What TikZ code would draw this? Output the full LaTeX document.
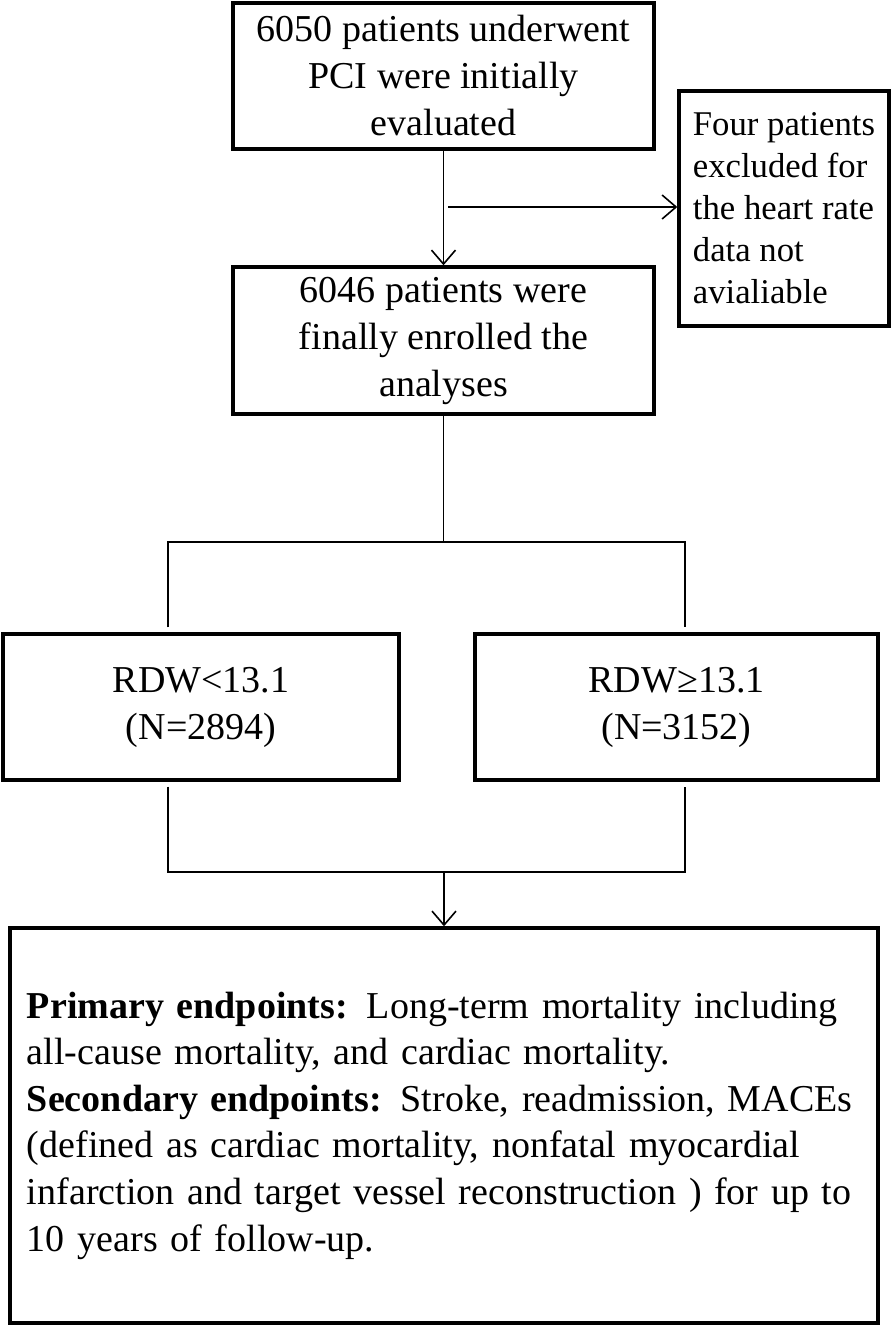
\documentclass[tikz,border=0pt]{standalone}
\usepackage{fontspec}
\setmainfont{Liberation Serif}
\usetikzlibrary{
	arrows.meta,
	positioning
}

\begin{document}
\begin{tikzpicture}[x=1pt,y=-1pt,
		>={Straight Barb[length=14pt,width=24pt]},
		box/.style={draw,line width=3.4pt,inner sep=0pt,align=center,
			font=\fontsize{38}{47}\selectfont},
		link/.style={line width=1.6pt}]
		
		\useasboundingbox (0,0) rectangle (894,1327);
		
		% Screened and enrolled
		\node[box,minimum width=421,minimum height=146] (init) at (443.5,76)
			{6050 patients underwent\\PCI were initially\\evaluated};
		\node[box,minimum width=421,minimum height=147] (enrol) at (443.5,340.5)
			{6046 patients were\\finally enrolled the\\analyses};
		\node[box,minimum width=210,minimum height=235,align=left,
			font=\fontsize{34.7}{42}\selectfont] (excl) at (784,208.5)
			{Four patients\\excluded for\\the heart rate\\data not\\avialiable};
		\draw[link,->] (init) -- (enrol);
		\coordinate (split) at (448,207);
		\draw[link,->] (split) -- (split -| excl.west);
		
		% RDW groups
		\node[box,minimum width=396,minimum height=146] (low) at (201,707)
			{RDW<13.1\\(N=2894)};
		\node[box,minimum width=403,minimum height=146] (high) at (676.5,707)
			{RDW≥13.1\\(N=3152)};
		\coordinate (forkL) at (168,542);
		\coordinate (forkR) at (685,542);
		\draw[link] (enrol) -- (enrol |- forkL);
		\draw[link,shorten <=5pt,shorten >=5pt] (forkL |- low.north) -- (forkL)
			-- (forkR) -- (forkR |- high.north);
		
		% Endpoints
		\node[box,align=left,text width=834pt,inner xsep=17pt,minimum height=395,
			font=\fontsize{38}{46.6}\selectfont] (ends) at (444,1125.5)
			{\textbf{Primary endpoints:} Long-term mortality including\\
			all-cause mortality, and cardiac mortality.\\
			\textbf{Secondary endpoints:} Stroke, readmission, MACEs\\
			(defined as cardiac mortality, nonfatal myocardial\\
			infarction and target vessel reconstruction ) for up to\\
			10 years of follow-up.};
		\coordinate (joinL) at (168,872);
		\coordinate (joinR) at (685,872);
		\draw[link,shorten <=5pt,shorten >=5pt] (joinL |- low.south) -- (joinL)
			-- (joinR) -- (joinR |- high.south);
		\draw[link,->] (ends.north |- joinL) -- (ends);
		
	\end{tikzpicture}
\end{document}
